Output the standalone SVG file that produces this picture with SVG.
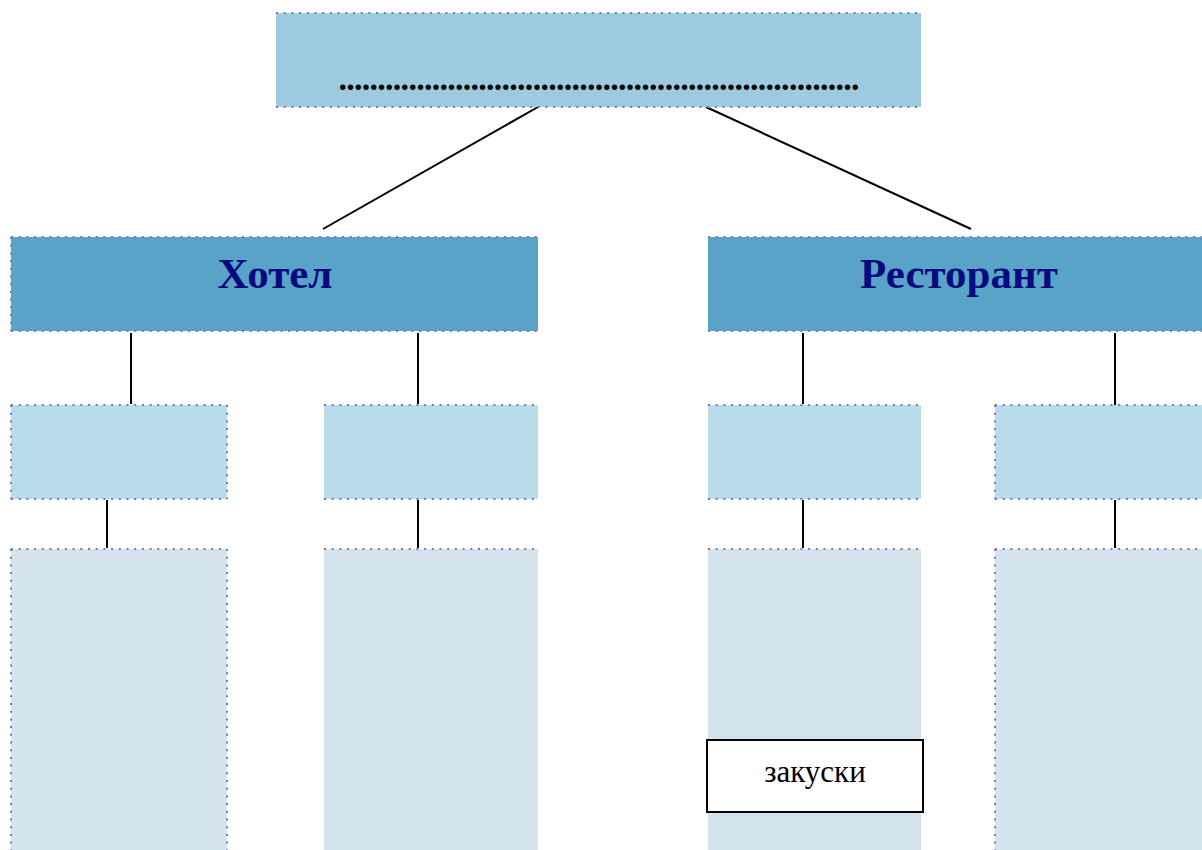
<svg xmlns="http://www.w3.org/2000/svg" width="1202" height="850" viewBox="0 0 1202 850">
<style>
.l1{fill:#9ECAE0}
.l2{fill:#58A3C7}
.l3{fill:#B8DCEA}
.l4{fill:#D5E4EC}
.dot{stroke:#7575C8;stroke-width:2;stroke-dasharray:2 5.7;fill:none}
.con{stroke:#000;stroke-width:2;fill:none}
.head{font-family:"Liberation Serif",serif;font-weight:bold;font-size:43px;fill:#0A0A80;text-anchor:middle}
</style>
<rect width="1202" height="850" fill="#fff"/>
<g id="connectors">
<line class="con" x1="538" y1="107" x2="323" y2="229"/>
<line class="con" x1="706" y1="107" x2="971" y2="229"/>
<line class="con" x1="131" y1="333" x2="131" y2="404"/>
<line class="con" x1="418" y1="333" x2="418" y2="404"/>
<line class="con" x1="803" y1="333" x2="803" y2="404"/>
<line class="con" x1="1115" y1="333" x2="1115" y2="405"/>
<line class="con" x1="107" y1="500" x2="107" y2="548"/>
<line class="con" x1="418" y1="500" x2="418" y2="548"/>
<line class="con" x1="803" y1="500" x2="803" y2="548"/>
<line class="con" x1="1115" y1="500" x2="1115" y2="548"/>
</g>
<g id="top">
<rect class="l1" x="276" y="13" width="645" height="94"/>
<path class="dot" d="M276 13H921M276 107H921"/>
<text x="599" y="90" font-family="Liberation Serif,serif" font-weight="bold" font-size="34" text-anchor="middle" textLength="521" lengthAdjust="spacing">...................................................................</text>
</g>
<g id="hotel">
<rect class="l2" x="11" y="237" width="527" height="94"/>
<path class="dot" d="M11 237H538M11 331H538M11 237V331"/>
<text class="head" x="275" y="288">Хотел</text>
</g>
<g id="restaurant">
<rect class="l2" x="708" y="237" width="494" height="94"/>
<path class="dot" d="M708 237H1202M708 331H1202"/>
<text class="head" x="959" y="288">Ресторант</text>
</g>
<g id="h1">
<rect class="l3" x="11" y="405" width="216" height="94"/>
<path class="dot" d="M11 405H227M11 499H227M11 405V499M227 405V499"/>
</g>
<g id="h2">
<rect class="l3" x="324" y="405" width="214" height="94"/>
<path class="dot" d="M324 405H538M324 499H538"/>
</g>
<g id="r1">
<rect class="l3" x="708" y="405" width="213" height="94"/>
<path class="dot" d="M708 405H921M708 499H921"/>
</g>
<g id="r2">
<rect class="l3" x="995" y="405" width="207" height="94"/>
<path class="dot" d="M995 405H1202M995 499H1202M995 405V499"/>
</g>
<g id="h1d">
<rect class="l4" x="11" y="549" width="216" height="301"/>
<path class="dot" d="M11 549H227M11 549V850M227 549V850"/>
</g>
<g id="h2d">
<rect class="l4" x="324" y="549" width="214" height="301"/>
<path class="dot" d="M324 549H538"/>
</g>
<g id="r1d">
<rect class="l4" x="708" y="549" width="213" height="301"/>
<path class="dot" d="M708 549H921"/>
</g>
<g id="r2d">
<rect class="l4" x="995" y="549" width="207" height="301"/>
<path class="dot" d="M995 549H1202M995 549V850"/>
</g>
<g id="zakuski">
<rect x="707" y="740" width="216" height="72" fill="#fff" stroke="#000" stroke-width="2"/>
<text x="815" y="782" font-family="Liberation Serif,serif" font-size="31" text-anchor="middle">закуски</text>
</g>
</svg>
